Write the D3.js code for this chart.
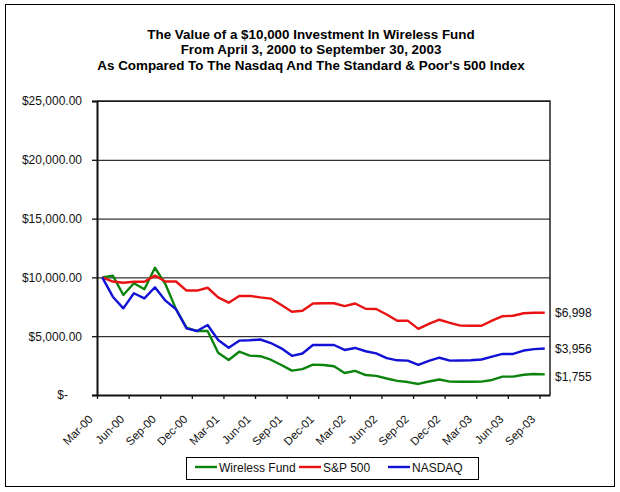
<!DOCTYPE html>
<html>
<head>
<meta charset="utf-8">
<script src="https://cdn.jsdelivr.net/npm/d3@7"></script>
<style>
  html, body { margin: 0; padding: 0; background: #fff; }
  svg { display: block; font-family: "Liberation Sans", Arial, sans-serif; }
</style>
</head>
<body>
<svg id="chart" width="620" height="492"></svg>
<script>
// ---- data (monthly, Mar-00 .. Sep-03) ----
const categories = d3.timeMonths(new Date(2000, 2, 1), new Date(2003, 9, 1));
const tickLabels = ["Mar-00","Jun-00","Sep-00","Dec-00","Mar-01","Jun-01","Sep-01","Dec-01",
                    "Mar-02","Jun-02","Sep-02","Dec-02","Mar-03","Jun-03","Sep-03"];
const yTicks = [0, 5000, 10000, 15000, 20000, 25000];
const seriesNames = ["Wireless Fund", "S&P 500", "NASDAQ"];
const seriesColors = ["#0c830c", "#ea1313", "#1212d6"];

const wireless = [10000,10150,8500,9500,8990,10820,9410,7300,5720,5440,5440,3600,2980,3680,3350,
                  3300,3000,2550,2070,2200,2580,2550,2450,1870,2050,1700,1630,1400,1200,1100,
                  940,1150,1320,1140,1130,1130,1140,1280,1560,1560,1720,1780,1755];
const sp500 = [10000,9650,9550,9630,9630,10150,9650,9650,8880,8880,9120,8300,7850,8420,8430,
               8300,8200,7650,7080,7170,7780,7800,7800,7560,7780,7330,7310,6850,6320,6320,
               5620,6050,6400,6130,5900,5890,5890,6320,6700,6740,6950,7000,6998];
const nasdaq = [10000,8360,7370,8650,8220,9160,8020,7290,5670,5440,5950,4680,4020,4620,4650,
                4720,4420,3970,3330,3530,4250,4250,4250,3830,4000,3720,3540,3130,2950,2920,
                2560,2900,3170,2920,2930,2950,3020,3260,3490,3490,3780,3900,3956];
const endLabels = ["$1,755", "$6,998", "$3,956"];
const titleLines = ["The Value of a $10,000 Investment In Wireless Fund",
                    "From April 3, 2000 to September 30, 2003",
                    "As Compared To The Nasdaq And The Standard & Poor's 500 Index"];

const allSeries = [wireless, sp500, nasdaq];

// ---- layout ----
const svg = d3.select("#chart");
const L = 97, R = 550, T = 101, B = 395;

// outer border
svg.append("rect").attr("x", 5.5).attr("y", 4.5).attr("width", 609).attr("height", 482)
  .attr("fill", "#fff").attr("stroke", "#000").attr("stroke-width", 1);

// title
svg.append("g").selectAll("text").data(titleLines).join("text")
  .attr("x", 311).attr("y", (d, i) => 39 + i * 15.3)
  .attr("text-anchor", "middle").attr("font-weight", "bold").attr("font-size", "13.4px")
  .attr("fill", "#000").text(d => d);

// scales
const x = d3.scaleLinear().domain([0, categories.length]).range([L, R]);
const y = d3.scaleLinear().domain([0, 25000]).range([B, T]);

// gridlines
svg.append("g").selectAll("line").data(yTicks.filter(d => d > 0)).join("line")
  .attr("x1", L).attr("x2", R).attr("y1", d => y(d) + 0.5).attr("y2", d => y(d) + 0.5)
  .attr("stroke", "#000").attr("stroke-width", 1);

// plot border (right + top)
svg.append("path")
  .attr("d", `M${L},${T}H${R}V${B}`)
  .attr("fill", "none").attr("stroke", "#222").attr("stroke-width", 1.5);

// y axis
const yAxis = svg.append("g").attr("transform", `translate(${L},0)`)
  .call(d3.axisLeft(y).tickValues(yTicks).tickSize(5).tickPadding(10)
    .tickFormat(d => d === 0 ? "$-" : d3.format("$,.2f")(d)));
yAxis.select(".domain").attr("stroke", "#111").attr("stroke-width", 2);
yAxis.selectAll(".tick line").attr("stroke", "#111").attr("stroke-width", 1.3);
yAxis.selectAll(".tick text").attr("font-size", "12px").attr("font-family", "Liberation Sans, Arial, sans-serif")
  .attr("fill", "#111");
yAxis.selectAll(".tick text").filter(d => d === 0).attr("x", -29);

// x axis
const tickIdx = tickLabels.map((_, i) => i * 3);
const xAxis = svg.append("g").attr("transform", `translate(0,${B})`)
  .call(d3.axisBottom(x).tickValues(tickIdx).tickSize(4).tickSizeOuter(0)
    .tickFormat((d, i) => tickLabels[i]));
xAxis.select(".domain").attr("stroke", "#111").attr("stroke-width", 2);
xAxis.selectAll(".tick line").attr("stroke", "#111").attr("stroke-width", 1.3);
xAxis.selectAll(".tick text")
  .attr("font-size", "11.5px").attr("font-family", "Liberation Sans, Arial, sans-serif").attr("fill", "#111")
  .attr("text-anchor", "end")
  .attr("dy", null).attr("y", 0)
  .attr("transform", "translate(-4,25) rotate(-45)");

// lines
const line = d3.line().x((d, i) => x(i + 0.5)).y(d => y(d));
svg.append("g").selectAll("path").data(allSeries).join("path")
  .attr("d", d => line(d))
  .attr("fill", "none")
  .attr("stroke", (d, i) => seriesColors[i])
  .attr("stroke-width", 2.4)
  .attr("stroke-linejoin", "round");

// end labels
svg.append("g").selectAll("text").data(allSeries).join("text")
  .attr("x", 555)
  .attr("y", (d, i) => y(d[d.length - 1]) + 4.5 + (i === 0 ? 2 : 0))
  .attr("font-size", "12px").attr("fill", "#111")
  .text((d, i) => endLabels[i]);

// legend
const lg = svg.append("g");
lg.append("rect").attr("x", 186.5).attr("y", 457.5).attr("width", 292).attr("height", 22)
  .attr("fill", "#fff").attr("stroke", "#000").attr("stroke-width", 1);
const legendX = [195, 299, 388];
const item = lg.selectAll("g.item").data(seriesNames).join("g").attr("class", "item")
  .attr("transform", (d, i) => `translate(${legendX[i]},0)`);
item.append("line").attr("x1", 0).attr("x2", 22).attr("y1", 467).attr("y2", 467)
  .attr("stroke", (d, i) => seriesColors[i]).attr("stroke-width", 2.4);
item.append("text").attr("x", 24).attr("y", 471.5).attr("font-size", "12px").attr("fill", "#111")
  .text(d => d);
</script>
</body>
</html>
